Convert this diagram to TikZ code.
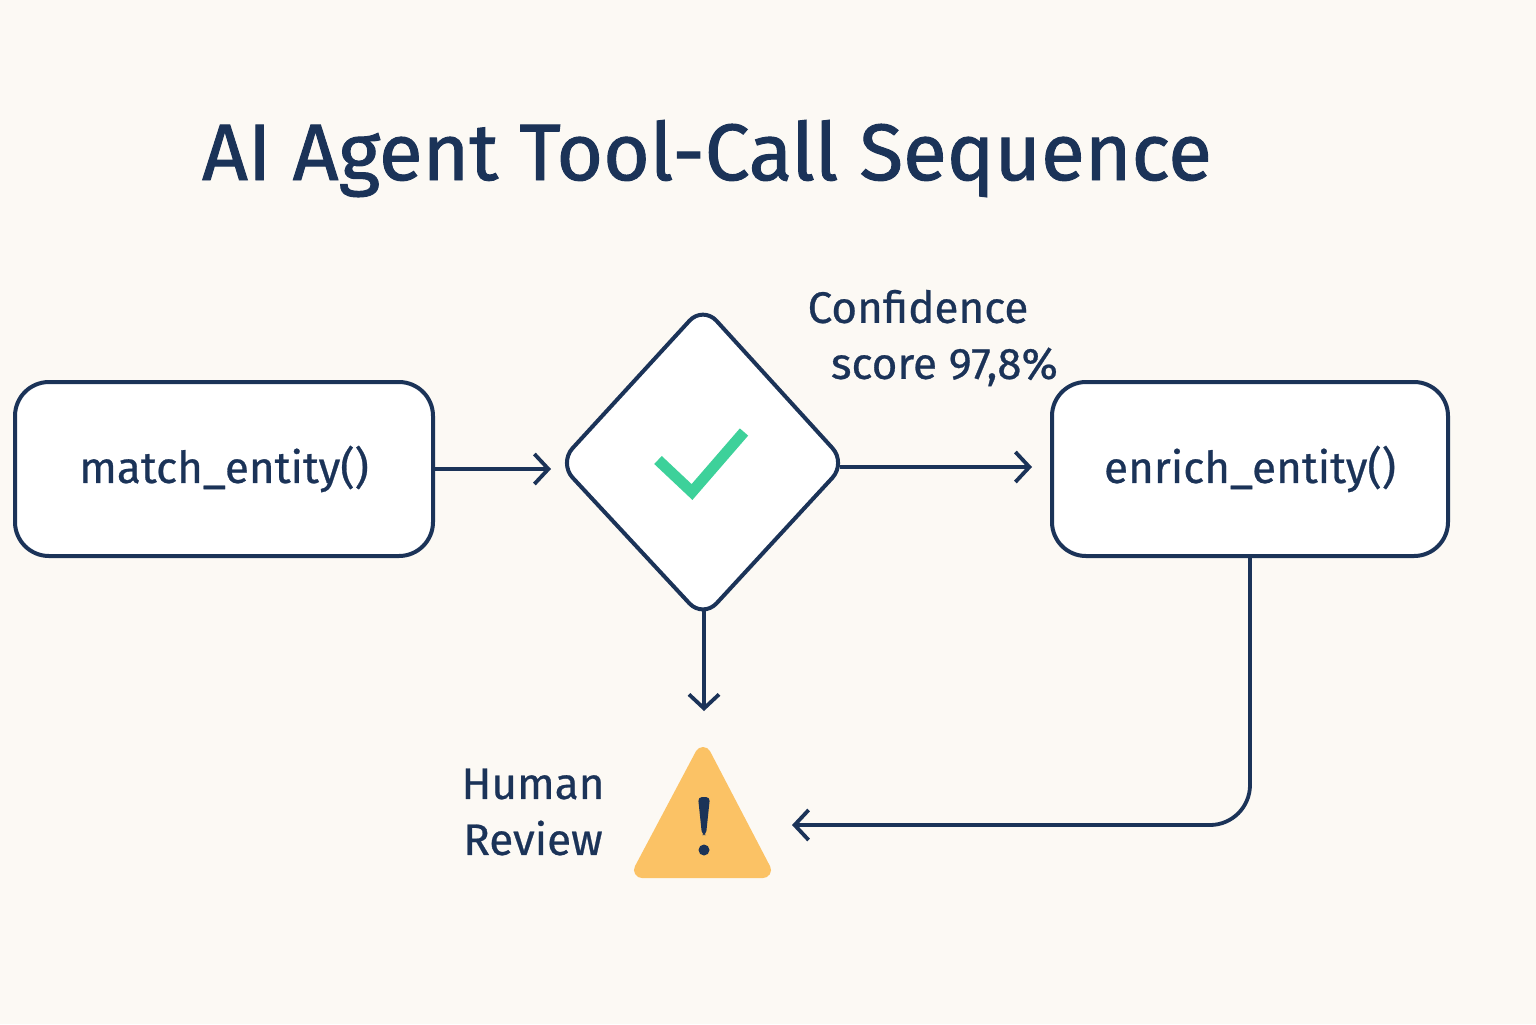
\documentclass[tikz,border=0pt]{standalone}
\usepackage{fontspec}
\setmainfont{Fira Sans}
\usetikzlibrary{arrows.meta,shapes.geometric}
\definecolor{navy}{HTML}{1B3358}
\definecolor{bg}{HTML}{FCF9F4}
\definecolor{grn}{HTML}{3DD19A}
\definecolor{org}{HTML}{FBC265}
\begin{document}
\begin{tikzpicture}[x=0.5pt,y=-0.5pt,
  box/.style={draw=navy,line width=2pt,rounded corners=17pt,fill=white,minimum width=209pt,minimum height=87pt,text=navy,font=\fontsize{22}{26}\selectfont\addfontfeatures{FakeBold=0.6}},
  arr/.style={draw=navy,line width=1.9pt,-{Straight Barb[length=7pt,width=15pt,line width=1.9pt]}},
  lbl/.style={text=navy,font=\fontsize{22}{28}\selectfont\addfontfeatures{FakeBold=0.6},align=center}]
\fill[bg] (0,0) rectangle (1536,1024);
\useasboundingbox (0,0) rectangle (1536,1024);
\node[anchor=base west,text=navy,font=\fontsize{40}{48}\selectfont\addfontfeatures{FakeBold=1.2}] (title) at (195,180) {AI Agent Tool-Call Sequence};
\node[box] (m) at (224,469) {match\_entity()};
\node[box,minimum width=198pt] (e) at (1250,469) {enrich\_entity()};
\draw[navy,line width=2pt,fill=white,rounded corners=10pt] (703,306) -- (846,463) -- (703,618) -- (559,463) -- cycle;
\coordinate (dl) at (565,469); \coordinate (dr) at (840,467); \coordinate (db) at (704,611);
\node (d) at (703,463) {};
\draw[grn,line width=5.5pt] (658,460) -- (692,492) -- (744,432);
\draw[arr] (m.east) -- (551,469);
\coordinate (ea) at (1032,467);
\draw[arr] (dr) -- (ea);
\coordinate (ha) at (704,711);
\draw[arr] (db) -- (ha);
\node[lbl,anchor=center] (conf) at (918,338) {Confidence\\\hspace*{1.2em}score 97,8\%};
\draw[org,fill=org,line width=8pt,line join=round] (703,755) -- (763,870) -- (642,870) -- cycle;
\node (w) at (703,820) {};
\fill[navy,rounded corners=2pt] (698,797) -- (710,797) -- (706,835) -- (702,835) -- cycle;
\fill[navy] (704,850) circle (5.5);
\node[lbl,anchor=center] (hr) at (533,812) {Human\\Review};
\coordinate (ra) at (792,825);
\draw[arr,rounded corners=20pt] (e.south) -- (1250,825) -- (ra);
\end{tikzpicture}
\end{document}
